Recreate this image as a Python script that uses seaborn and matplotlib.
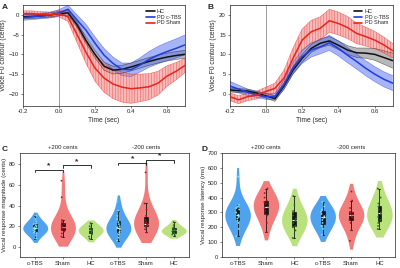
import numpy as np
import pandas as pd
import matplotlib
matplotlib.use("Agg")
import matplotlib.pyplot as plt
import seaborn as sns

sns.set_theme(style="white")
plt.rcParams['font.family'] = ['Liberation Sans', 'DejaVu Sans']
plt.rcParams['hatch.linewidth'] = 0.4

# ---------------- data: F0 contours ----------------
time = [-0.2, -0.15, -0.1, -0.05, 0.0, 0.05, 0.1, 0.15, 0.2, 0.25, 0.3, 0.35,
        0.4, 0.45, 0.5, 0.55, 0.6, 0.65, 0.7]

a_hc = [-0.5, -0.4, -0.3, 0.0, 0.3, 0.5, -2.5, -6.5, -10.0, -13.0, -14.0, -13.8,
        -13.2, -12.5, -11.8, -11.2, -10.7, -10.3, -10.0]
a_hc_se = [0.5, 0.5, 0.5, 0.5, 0.5, 0.6, 0.7, 0.8, 0.9, 1.0, 1.0, 1.0,
           1.0, 1.0, 1.0, 1.0, 1.0, 1.0, 1.0]
a_ctbs = [-0.7, -0.5, -0.3, -0.1, 0.5, 1.4, -1.3, -3.9, -7.2, -10.2, -12.3, -13.8,
          -13.9, -12.7, -11.3, -10.2, -9.3, -8.5, -7.6]
a_ctbs_se = [0.7, 0.7, 0.7, 0.7, 0.8, 1.0, 1.3, 1.5, 1.6, 1.7, 1.6, 1.6,
             1.7, 1.8, 2.0, 2.2, 2.3, 2.4, 2.5]
a_sham = [0.3, 0.3, 0.1, 0.0, 0.3, -0.5, -5.0, -9.5, -13.5, -16.0, -17.5, -18.3,
          -18.7, -18.5, -18.2, -17.3, -15.5, -14.3, -12.8]
a_sham_se = [0.7, 0.7, 0.7, 0.7, 0.8, 1.2, 2.0, 2.8, 3.3, 3.6, 3.7, 3.8,
             3.7, 3.5, 3.3, 3.0, 2.6, 2.2, 1.8]

b_hc = [1.0, 0.8, 0.7, 0.2, -0.5, -1.2, 2.0, 6.0, 9.0, 11.5, 12.8, 13.4,
        12.3, 11.1, 10.4, 10.3, 10.0, 9.2, 8.4]
b_hc_se = [0.5, 0.5, 0.5, 0.5, 0.6, 0.7, 0.8, 0.9, 1.0, 1.0, 1.1, 1.1,
           1.1, 1.1, 1.2, 1.3, 1.5, 1.7, 1.9]
b_ctbs = [2.0, 1.2, 0.4, -0.2, -0.7, -0.7, 2.3, 6.5, 9.4, 11.1, 11.9, 12.9,
          11.5, 9.8, 8.2, 6.5, 5.0, 3.7, 2.7]
b_ctbs_se = [1.2, 1.0, 0.8, 0.7, 0.7, 0.8, 1.2, 1.5, 1.7, 1.8, 1.8, 1.9,
             1.9, 1.9, 1.9, 1.9, 1.9, 1.9, 1.9]
b_sham = [-0.7, -1.5, -0.7, -0.3, 0.6, 1.4, 4.0, 9.0, 13.6, 15.7, 16.6, 18.5,
          17.8, 16.8, 15.3, 14.5, 13.6, 12.4, 10.9]
b_sham_se = [1.0, 1.0, 1.0, 1.0, 1.1, 1.3, 2.0, 2.6, 2.8, 2.9, 2.9, 2.9,
             2.9, 2.8, 2.6, 2.4, 2.2, 2.0, 1.8]

# ---------------- data: violins ----------------
categories = ["c-TBS", "Sham", "HC", "c-TBS", "Sham", "HC"]
group_keys = ["p_ctbs", "p_sham", "p_hc", "m_ctbs", "m_sham", "m_hc"]

mag_p_ctbs = [8, 11, 13, 14, 15, 16, 17, 18, 18, 19, 20, 21, 22, 23, 25, 27, 30]
mag_p_sham = [10, 13, 15, 16, 17, 18, 18, 19, 20, 21, 22, 24, 26, 48, 64]
mag_p_hc = [8, 10, 12, 14, 15, 16, 16, 17, 18, 20, 22, 23]
mag_m_ctbs = [6, 9, 12, 14, 15, 17, 18, 18, 19, 20, 22, 24, 27, 30, 35, 44]
mag_m_sham = [14, 17, 19, 20, 21, 21, 22, 23, 24, 26, 30, 36, 42, 72]
mag_m_hc = [11, 12, 13, 14, 15, 16, 16, 17, 18, 19, 21, 24]

lat_p_ctbs = [140, 190, 230, 245, 260, 270, 275, 285, 300, 320, 330, 340, 350, 540]
lat_p_sham = [170, 230, 280, 290, 310, 330, 340, 360, 370, 380, 400, 430, 460]
lat_p_hc = [130, 180, 200, 210, 230, 245, 260, 280, 300, 310, 350, 410]
lat_m_ctbs = [150, 190, 210, 230, 250, 265, 275, 290, 305, 320, 340, 370]
lat_m_sham = [110, 180, 230, 250, 265, 275, 285, 295, 300, 305, 330, 380, 440]
lat_m_hc = [190, 210, 230, 250, 270, 290, 300, 320, 340, 360, 400, 460]

# significance brackets (C): (x1, x2, y)
sig_pairs = [(0, 1, 74.5), (1, 2, 79), (3, 4, 81.5), (4, 5, 84)]

# ---------------- styling ----------------
C_HC, C_CTBS, C_SHAM = "#111111", "#1f3cdc", "#e8241c"
V_COLORS = ["#4fa3ee", "#f17c7c", "#b9e27c"] * 2
P_COLORS = ["#7fe8f0", "#b0121a", "#2a6a2a"] * 2
FS = 4.8

fig = plt.figure(figsize=(4.0, 2.68), dpi=100)
axA = fig.add_axes([0.0575, 0.6056, 0.405, 0.376])
axB = fig.add_axes([0.574, 0.6056, 0.408, 0.376])
axC = fig.add_axes([0.05, 0.040, 0.4225, 0.390])
axD = fig.add_axes([0.555, 0.040, 0.4325, 0.390])


def contour(ax, series, ylim, yticks):
    for name, mean, se, col, band, hatch, alpha in series:
        m = np.array(mean)
        s = np.array(se)
        ax.fill_between(time, m - s, m + s, facecolor=band, edgecolor=col if hatch else "none",
                        hatch=hatch, linewidth=0, alpha=alpha, zorder=1)
        ax.plot(time, m - s, color=col, lw=0.4, alpha=0.6, zorder=2)
        ax.plot(time, m + s, color=col, lw=0.4, alpha=0.6, zorder=2)
    for name, mean, se, col, band, hatch, alpha in series:
        df = pd.DataFrame({"t": time, "v": mean})
        sns.lineplot(data=df, x="t", y="v", color=col, lw=1.1, ax=ax, label=name, zorder=3)
    ax.axvline(0, color="#777777", lw=0.5, zorder=0)
    ax.set_xlim(-0.2, 0.7)
    ax.set_ylim(*ylim)
    ax.set_xticks([-0.2, 0.0, 0.2, 0.4, 0.6])
    ax.set_xticklabels(["-0.2", "0.0", "0.2", "0.4", "0.6"])
    ax.set_yticks(yticks)
    ax.set_xlabel("Time (sec)", fontsize=FS, labelpad=1.5)
    ax.set_ylabel("Voice F0 contour (cents)", fontsize=FS, labelpad=1.5)
    ax.tick_params(labelsize=FS - 0.5, length=1.5, width=0.4, pad=1.2, left=True, bottom=True)
    for sp in ax.spines.values():
        sp.set_linewidth(0.5)
        sp.set_color("#222222")
    leg = ax.legend(loc="upper right", fontsize=FS - 0.8, frameon=False, handlelength=1.6,
                    handletextpad=0.4, labelspacing=0.15, borderaxespad=0.3)
    for h in leg.get_lines():
        h.set_linewidth(1.2)


contour(axA, [("HC", a_hc, a_hc_se, C_HC, "#8a8a8a", None, 0.6),
              ("PD c-TBS", a_ctbs, a_ctbs_se, C_CTBS, "#5f78f0", None, 0.55),
              ("PD Sham", a_sham, a_sham_se, C_SHAM, "#f48e8e", "||||||", 0.6)],
        (-23, 2.5), [-20, -15, -10, -5, 0])
contour(axB, [("HC", b_hc, b_hc_se, C_HC, "#8a8a8a", None, 0.6),
              ("PD c-TBS", b_ctbs, b_ctbs_se, C_CTBS, "#5f78f0", None, 0.55),
              ("PD Sham", b_sham, b_sham_se, C_SHAM, "#f48e8e", "||||||", 0.6)],
        (-3, 22.5), [0, 5, 10, 15, 20])


def violins(ax, arrays, ylim, yticks, ylabel):
    rows = []
    for k, arr in zip(group_keys, arrays):
        rows += [(k, v) for v in arr]
    df = pd.DataFrame(rows, columns=["g", "v"])
    pal = dict(zip(group_keys, V_COLORS))
    ppal = dict(zip(group_keys, P_COLORS))
    sns.violinplot(data=df, x="g", y="v", hue="g", order=group_keys, palette=pal, inner=None,
                   linewidth=0, cut=0.8, bw_adjust=1.4, density_norm="width", width=0.9,
                   saturation=1, legend=False, ax=ax)
    sns.boxplot(data=df, x="g", y="v", order=group_keys, width=0.13, showfliers=False,
                boxprops=dict(facecolor="#151515", edgecolor="#151515", linewidth=0.5),
                whiskerprops=dict(color="#151515", linewidth=0.6),
                capprops=dict(color="#151515", linewidth=0.6),
                medianprops=dict(color="white", linewidth=0.8), whis=1.5, ax=ax)
    sns.stripplot(data=df, x="g", y="v", hue="g", order=group_keys, palette=ppal, size=1.3,
                  jitter=0.06, linewidth=0, legend=False, ax=ax, zorder=5)
    ax.set_xlim(-0.55, 5.55)
    ax.set_ylim(*ylim)
    ax.set_yticks(yticks)
    ax.set_xticks(range(6))
    ax.set_xticklabels(categories)
    ax.set_xlabel("")
    ax.set_ylabel(ylabel, fontsize=FS - 0.3, labelpad=1.5)
    ax.tick_params(labelsize=FS - 0.5, length=1.5, width=0.4, pad=1.5, left=True, bottom=True)
    for sp in ax.spines.values():
        sp.set_linewidth(0.5)
        sp.set_color("#222222")
    ax.text(1, 1.03, "+200 cents", transform=ax.get_xaxis_transform(), ha="center",
            va="bottom", fontsize=FS - 0.5)
    ax.text(4, 1.03, "-200 cents", transform=ax.get_xaxis_transform(), ha="center",
            va="bottom", fontsize=FS - 0.5)


violins(axC, [mag_p_ctbs, mag_p_sham, mag_p_hc, mag_m_ctbs, mag_m_sham, mag_m_hc],
        (-10, 91), [0, 20, 40, 60, 80], "Vocal response magnitude (cents)")
violins(axD, [lat_p_ctbs, lat_p_sham, lat_p_hc, lat_m_ctbs, lat_m_sham, lat_m_hc],
        (0, 700), [0, 100, 200, 300, 400, 500, 600, 700], "Vocal response latency (ms)")

for x1, x2, y in sig_pairs:
    axC.plot([x1, x1, x2, x2], [y - 2.5, y, y, y - 2.5], color="#111111", lw=0.6)
    axC.text((x1 + x2) / 2, y + 0.3, "*", ha="center", va="bottom", fontsize=6, fontweight="bold")

for lab, x, y in [("A", 0.005, 0.985), ("B", 0.52, 0.985), ("C", 0.005, 0.455), ("D", 0.503, 0.455)]:
    fig.text(x, y, lab, fontsize=6, fontweight="bold", ha="left", va="top")

fig.savefig("out.png", dpi=100)
